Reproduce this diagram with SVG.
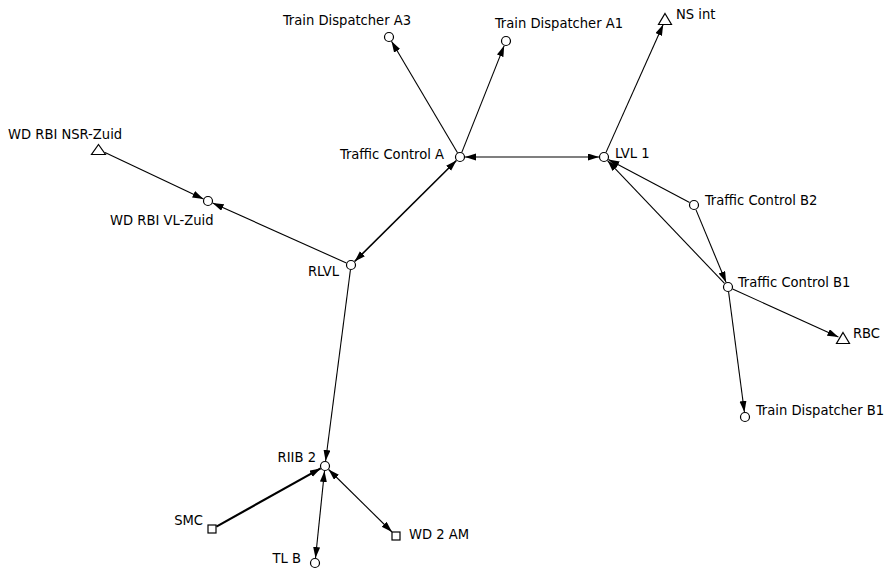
<svg xmlns="http://www.w3.org/2000/svg" width="887" height="570" viewBox="0 0 887 570">
<style>
  .n { fill: #fff; stroke: #000; stroke-width: 1.2; }
  .lbl { font-family: "DejaVu Sans Condensed", "Liberation Sans", sans-serif; font-size: 14.6px; fill: #000; }
  .e { stroke: #000; stroke-width: 1.1; fill: none; marker-end: url(#ah); }
  .b { marker-start: url(#ah); }
</style>
<defs>
  <marker id="ah" markerUnits="userSpaceOnUse" markerWidth="12" markerHeight="8" refX="11" refY="3.5" orient="auto-start-reverse">
    <path d="M0,0 L11,3.5 L0,7 z" fill="#000"/>
  </marker>
</defs>
<rect width="887" height="570" fill="#fff"/>
<g id="connectors">
  <line class="e" x1="457.5" y1="152.7" x2="391.5" y2="41.3"/>
  <line class="e" x1="461.8" y1="152.4" x2="504.2" y2="45.6"/>
  <line class="e b" x1="465" y1="157" x2="599" y2="157"/>
  <line class="e" x1="606" y1="152.4" x2="663.2" y2="24.5"/>
  <line class="e b" x1="354.6" y1="261.5" x2="456.4" y2="160.5" style="stroke-width:1.6"/>
  <line class="e" x1="105" y1="152.5" x2="203.5" y2="198.9"/>
  <line class="e" x1="346.4" y1="263" x2="212.6" y2="203"/>
  <line class="e" x1="350.4" y1="270" x2="325.6" y2="461"/>
  <line class="e" x1="689.6" y1="202.6" x2="608.4" y2="159.4"/>
  <line class="e" x1="724.5" y1="283.4" x2="607.5" y2="160.6"/>
  <line class="e" x1="695.9" y1="209.6" x2="726.1" y2="282.4"/>
  <line class="e" x1="732.6" y1="289" x2="838.4" y2="337"/>
  <line class="e" x1="728.6" y1="292" x2="744.4" y2="412"/>
  <line class="e" x1="216.4" y1="526.6" x2="320.6" y2="468.4" style="stroke-width:2.2"/>
  <line class="e b" x1="324.5" y1="471" x2="315.5" y2="558"/>
  <line class="e b" x1="328.6" y1="469.5" x2="392" y2="532"/>
</g>
<g id="td-a3"><circle class="n" cx="389" cy="37" r="4.5"/><text class="lbl" x="283" y="25">Train Dispatcher A3</text></g>
<g id="td-a1"><circle class="n" cx="506" cy="41" r="4.5"/><text class="lbl" x="495" y="27.5">Train Dispatcher A1</text></g>
<g id="ns-int"><polygon class="n" points="665,13.5 671.5,24.5 658.5,24.5"/><text class="lbl" x="676" y="18.5">NS int</text></g>
<g id="tc-a"><circle class="n" cx="460" cy="157" r="4.5"/><text class="lbl" x="444" y="158.5" text-anchor="end">Traffic Control A</text></g>
<g id="lvl1"><circle class="n" cx="604" cy="157" r="4.5"/><text class="lbl" x="615" y="157.5">LVL 1</text></g>
<g id="wd-nsr"><polygon class="n" points="98.5,144.5 105.5,154.5 91.5,154.5"/><text class="lbl" x="8" y="139">WD RBI NSR-Zuid</text></g>
<g id="wd-vl"><circle class="n" cx="208" cy="201" r="4.5"/><text class="lbl" x="110" y="225">WD RBI VL-Zuid</text></g>
<g id="rlvl"><circle class="n" cx="351" cy="265" r="4.5"/><text class="lbl" x="339" y="276" text-anchor="end">RLVL</text></g>
<g id="tc-b2"><circle class="n" cx="694" cy="205" r="4.5"/><text class="lbl" x="705" y="205">Traffic Control B2</text></g>
<g id="tc-b1"><circle class="n" cx="728" cy="287" r="4.5"/><text class="lbl" x="738" y="287">Traffic Control B1</text></g>
<g id="rbc"><polygon class="n" points="843,332.5 849.5,343.5 836.5,343.5"/><text class="lbl" x="853" y="338">RBC</text></g>
<g id="td-b1"><circle class="n" cx="745" cy="417" r="4.5"/><text class="lbl" x="756" y="415">Train Dispatcher B1</text></g>
<g id="riib2"><circle class="n" cx="325" cy="466" r="4.5"/><text class="lbl" x="316" y="462" text-anchor="end">RIIB 2</text></g>
<g id="smc"><rect class="n" x="208" y="525" width="8" height="8"/><text class="lbl" x="203" y="525" text-anchor="end">SMC</text></g>
<g id="tl-b"><circle class="n" cx="315" cy="563" r="4.5"/><text class="lbl" x="301" y="562.5" text-anchor="end">TL B</text></g>
<g id="wd-2am"><rect class="n" x="392" y="532" width="8" height="8"/><text class="lbl" x="409" y="539">WD 2 AM</text></g>
</svg>
